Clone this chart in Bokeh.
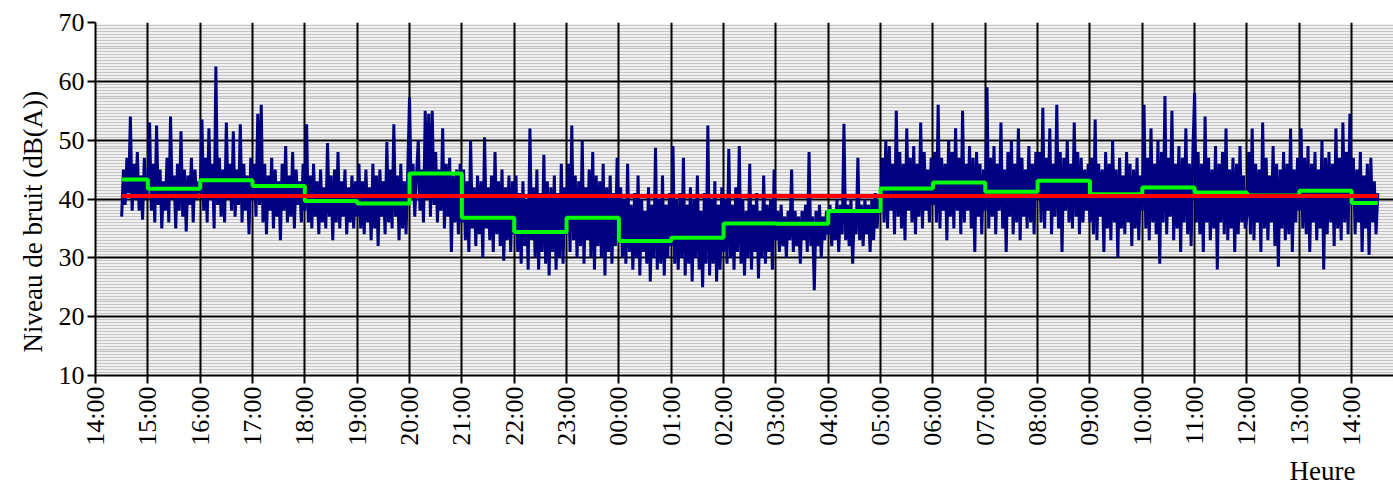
from bokeh.plotting import figure
from bokeh.models import FixedTicker, Range1d, Title
from bokeh.embed import file_html
from bokeh.resources import INLINE

# ---------------- data ----------------
hour_labels = ["14:00", "15:00", "16:00", "17:00", "18:00", "19:00", "20:00", "21:00",
               "22:00", "23:00", "00:00", "01:00", "02:00", "03:00", "04:00", "05:00",
               "06:00", "07:00", "08:00", "09:00", "10:00", "11:00", "12:00", "13:00", "14:00"]
y_tick_values = [10, 20, 30, 40, 50, 60, 70]

# Noise level, dB(A), sampled every 2 minutes, one list per clock hour
lvl_1430 = [37, 45, 39, 47, 41, 54, 38, 46, 40, 48, 38, 44, 36.5, 47, 40]
lvl_15 = [42, 53, 38, 46, 36, 52.5, 39, 45, 35, 43, 38, 47, 36, 54, 40, 44, 35, 46, 38, 51.5, 37, 45, 34.5, 44, 39, 47, 36, 45, 40, 43]
lvl_16 = [41, 53.5, 38, 47, 36, 52, 40, 46, 35, 62.5, 39, 47, 37, 45, 36, 53, 40, 46, 38, 51.5, 37, 45, 39, 52.7, 36, 46, 38, 44, 34, 47]
lvl_17 = [40, 46, 37, 54.5, 39, 56, 36, 46, 34, 44, 38, 47, 35, 45, 37, 43, 33, 46, 38, 49, 36, 44, 37, 48, 35, 45, 39, 43, 36, 46]
lvl_18 = [38, 52.7, 36, 44, 35, 46, 37, 43, 34, 45, 36, 42, 35, 49.5, 37, 44, 33, 45, 36, 48, 35, 43, 37, 45, 34, 42, 36, 44, 35, 43]
lvl_19 = [37, 46, 35, 43, 34, 45, 36, 42, 33, 46, 35, 44, 32, 45, 37, 43, 34, 49.7, 36, 45, 35, 52.7, 37, 44, 33, 46, 35, 43, 34, 45]
lvl_20 = [57.3, 40, 46, 37, 44, 50, 38, 45, 36, 55, 40, 54.5, 37, 55, 39, 48, 36, 45, 38, 52, 35, 46, 37, 47, 31, 44, 36, 45, 34, 46]
lvl_21 = [36, 45, 33, 43, 31, 50, 35, 42, 32, 44, 34, 43, 30, 50.5, 35, 42, 33, 44, 31, 48, 34, 43, 32, 45, 29.5, 42, 33, 44, 31, 43]
lvl_22 = [34, 44, 31, 41, 29, 43, 32, 40, 28, 52, 33, 42, 30, 45, 28, 41, 31, 47.5, 29, 43, 27, 42, 31, 44, 28, 41, 30, 46, 29, 42]
lvl_23 = [35, 46, 31, 52.5, 33, 44, 30, 43, 32, 50, 29, 42, 33, 45, 30, 48, 28, 44, 32, 43, 30, 46, 27, 42, 31, 44, 29, 41, 32, 47]
lvl_00 = [33, 42, 30, 40, 29, 46, 31, 39, 28, 41, 30, 44, 27, 40, 31, 38, 29, 42, 26, 39, 30, 48.7, 28, 40, 29, 44, 27, 39, 30, 41]
lvl_01 = [32, 49, 29, 40, 28, 41, 30, 47, 27, 39, 29, 42, 26, 40, 30, 44, 28, 38, 25, 41, 29, 52.5, 27, 40, 29, 43, 26, 39, 28, 42]
lvl_02 = [31, 40, 29, 48.5, 30, 39, 28, 42, 31, 49, 29, 40, 27, 38, 30, 46, 28, 39, 31, 41, 26.5, 38, 30, 44, 29, 39, 31, 40, 28, 45]
lvl_03 = [33, 38, 31, 39, 32, 37, 30, 38, 33, 45, 31, 38, 32, 37, 29, 38, 33, 39, 31, 48, 32, 37, 24.5, 38, 32, 39, 30, 37, 33, 38]
lvl_04 = [34, 39, 32, 38, 33, 40, 31, 39, 34, 52.8, 33, 39, 32, 40, 29, 38, 34, 47, 33, 39, 32, 40, 34, 39, 31, 40, 33, 41, 35, 40]
lvl_05 = [38, 47, 36, 50, 35, 49, 38, 46, 34, 55, 37, 48, 35, 46, 33, 52, 38, 47, 36, 49, 34, 46, 37, 53, 35, 48, 38, 45, 36, 47]
lvl_06 = [39, 48, 36, 56, 35, 47, 38, 46, 33, 50, 37, 48, 35, 52, 38, 47, 34, 55, 36, 46, 38, 49, 35, 47, 31, 48, 37, 46, 34, 45]
lvl_07 = [38, 59, 35, 47, 37, 49, 34, 46, 38, 53, 35, 45, 31, 48, 37, 50, 34, 46, 36, 52, 33, 47, 37, 45, 35, 49, 36, 46, 34, 48]
lvl_08 = [40, 48, 36, 55.5, 35, 47, 38, 52, 34, 46, 37, 56, 35, 48, 31, 47, 38, 50, 36, 46, 35, 53, 37, 48, 34, 47, 36, 45, 38, 46]
lvl_09 = [36, 47, 34, 53.5, 33, 46, 37, 45, 31, 48, 35, 46, 33, 50, 36, 45, 30, 47, 35, 44, 34, 48, 36, 46, 32, 45, 35, 47, 33, 44]
lvl_10 = [38, 56, 35, 47, 33, 52, 36, 46, 34, 50, 29, 48, 36, 57.5, 34, 47, 37, 55, 33, 46, 35, 49, 31, 47, 36, 52, 34, 46, 32, 48]
lvl_11 = [58, 36, 48, 34, 46, 31, 54, 36, 47, 33, 45, 35, 49, 28, 46, 36, 48, 34, 52, 33, 45, 35, 47, 31, 46, 34, 49, 36, 44, 35]
lvl_12 = [37, 48, 34, 52, 33, 46, 36, 45, 31, 53, 35, 47, 33, 44, 36, 49, 32, 46, 28.5, 45, 35, 48, 33, 46, 34, 52, 31, 45, 36, 47]
lvl_13 = [38, 52, 35, 47, 34, 49, 31, 46, 36, 48, 33, 45, 35, 50, 28, 47, 34, 48, 36, 46, 32, 52, 35, 47, 33, 53, 36, 48, 34, 54.5]
lvl_1400 = [39, 47, 34, 45, 36, 48, 31, 44, 35, 46, 30.5, 47, 36, 43, 34, 41]

# Hourly Leq (green steps): 14:30-15:00, 15:00-16:00, ..., 14:00-14:30
hourly_leq = [43.3, 41.75, 43.2, 42.2, 39.65, 39.25, 44.35, 36.8, 34.4, 36.8, 32.85, 33.4,
              35.85, 35.8, 37.95, 41.8, 42.8, 41.25, 43.1, 40.8, 41.95, 41.1, 40.6, 41.4, 39.3]
overall_leq = 40.5
start_h, end_h = 0.5, 24.5   # 14:30 -> 14:30 (hours after 14:00)

# ---------------- assemble ----------------
step = 2.0 / 60.0
segments = [(0.5, lvl_1430), (1, lvl_15), (2, lvl_16), (3, lvl_17), (4, lvl_18), (5, lvl_19),
            (6, lvl_20), (7, lvl_21), (8, lvl_22), (9, lvl_23), (10, lvl_00), (11, lvl_01),
            (12, lvl_02), (13, lvl_03), (14, lvl_04), (15, lvl_05), (16, lvl_06), (17, lvl_07),
            (18, lvl_08), (19, lvl_09), (20, lvl_10), (21, lvl_11), (22, lvl_12), (23, lvl_13),
            (24, lvl_1400)]
bx, by = [], []
for h0, vals in segments:
    for i, v in enumerate(vals):
        bx.append(h0 + i * step)
        by.append(v)

gx = [start_h] + list(range(1, 25)) + [end_h]
gy = hourly_leq + [hourly_leq[-1]]

FONT = "Liberation Serif"

p = figure(width=1393, height=493, output_backend="svg", toolbar_location=None,
           x_range=Range1d(0, 24.8), y_range=Range1d(10, 70),
           min_border_left=95, min_border_right=0, min_border_top=22, min_border_bottom=118)
p.outline_line_color = None
p.background_fill_color = "white"

# axes
p.xaxis.ticker = FixedTicker(ticks=list(range(len(hour_labels))))
p.xaxis.major_label_overrides = {i: lab for i, lab in enumerate(hour_labels)}
p.xaxis.major_label_orientation = 3.14159265 / 2
p.yaxis.ticker = FixedTicker(ticks=y_tick_values,
                             minor_ticks=[10 + 0.5 * k for k in range(121)])
for ax in (p.xaxis[0], p.yaxis[0]):
    ax.axis_line_color = "black"
    ax.axis_line_width = 2
    ax.major_tick_line_color = "black"
    ax.major_tick_line_width = 2
    ax.major_tick_out = 8
    ax.major_tick_in = 0
    ax.minor_tick_line_color = None
    ax.major_label_text_font = FONT
    ax.major_label_text_font_size = "26px"
    ax.major_label_text_color = "black"
    ax.major_label_standoff = 3

# grids
p.xgrid.grid_line_color = "black"
p.xgrid.grid_line_width = 2
p.ygrid.grid_line_color = "black"
p.ygrid.grid_line_width = 2
p.ygrid.minor_grid_line_color = "#c4c4c4"
p.ygrid.minor_grid_line_width = 1.5
p.ygrid.level = "image"

# series
p.line(bx, by, line_color="#000080", line_width=3)
p.step(gx, gy, mode="after", line_color="#00ff00", line_width=4)
p.line([start_h, end_h], [overall_leq, overall_leq], line_color="#ff0000", line_width=4)

# titles
ytitle = Title(text="Niveau de bruit (dB(A))", align="left", offset=23, standoff=16,
               text_font=FONT, text_font_size="27px", text_font_style="normal",
               text_color="black")
p.add_layout(ytitle, "left")
xtitle = Title(text="Heure", align="right", offset=38, standoff=10,
               text_font=FONT, text_font_size="27px", text_font_style="normal",
               text_color="black")
p.add_layout(xtitle, "below")

open("out.html", "w").write(file_html(p, INLINE))
